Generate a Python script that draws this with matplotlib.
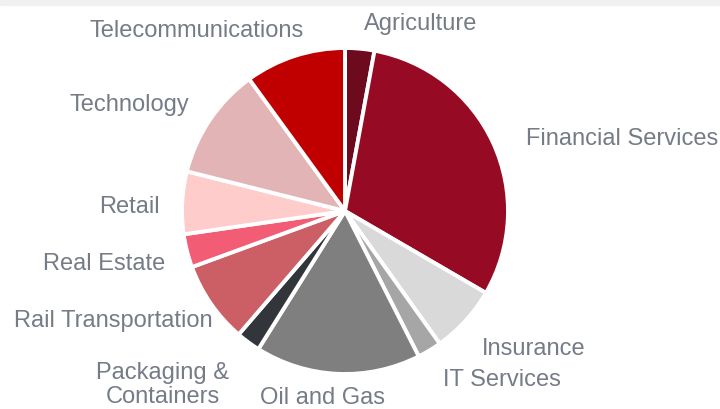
import matplotlib
matplotlib.use("Agg")
import matplotlib.pyplot as plt

sectors = ["Agriculture", "Financial Services", "Insurance", "IT Services",
           "Oil and Gas", "Packaging &\nContainers", "Rail Transportation",
           "Real Estate", "Retail", "Technology", "Telecommunications"]
weights = [2.9, 30.5, 6.75, 2.4, 16.4, 2.4, 8.1, 3.3, 6.2, 11.1, 10.0]
colors = ["#6e0a1e", "#970a24", "#d9d9d9", "#a6a6a6", "#7f7f7f", "#323539",
          "#cc5f66", "#f25c74", "#ffcccc", "#e3b4b6", "#c00000"]

# label anchor in pixels (x, y from top) and alignment
label_pos = [(421, 24, "center"), (526, 139, "left"), (482, 349, "left"),
             (443, 380, "left"), (323, 398, "center"), (163, 385, "center"),
             (213, 321, "right"), (165, 264, "right"), (160, 207, "right"),
             (189, 105, "right"), (197, 31, "center")]

W, H = 720, 410
plt.rcParams['font.family'] = ['Liberation Sans', 'DejaVu Sans']
fig = plt.figure(figsize=(W / 100, H / 100), dpi=100)
ax = fig.add_axes([0, 0, 1, 1])
ax.set_xlim(0, W)
ax.set_ylim(0, H)
ax.axis('off')

# thin grey band along the top
ax.axhspan(H - 6, H, color="#f0f0f0", zorder=0)

ax.pie(weights, colors=colors, startangle=90, counterclock=False,
       center=(345, H - 212), radius=163,
       wedgeprops=dict(edgecolor="white", linewidth=2.8))

for name, (x, y, ha) in zip(sectors, label_pos):
    ax.text(x, H - y, name, ha=ha, va="center", fontsize=17,
            color="#757c87", linespacing=1.15)

ax.set_xlim(0, W)
ax.set_ylim(0, H)
fig.savefig("out.png", dpi=100)
